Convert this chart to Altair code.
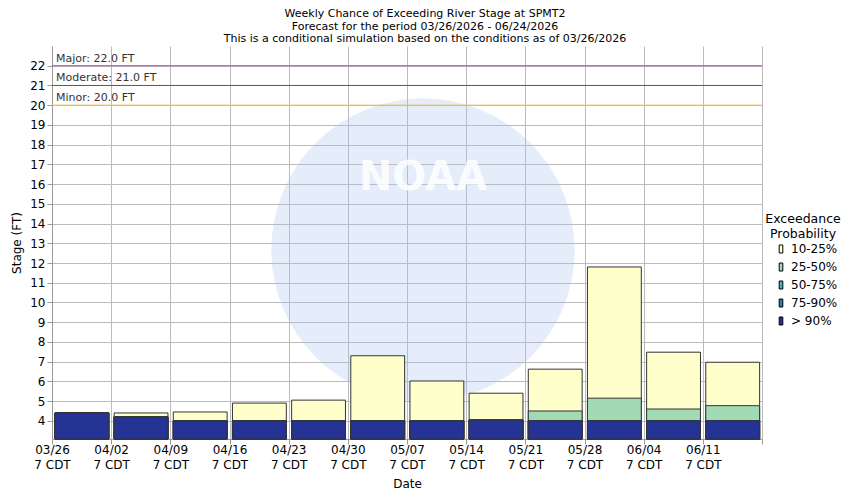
import altair as alt
import pandas as pd

# ---- data ----
week_labels = ["03/26", "04/02", "04/09", "04/16", "04/23", "04/30",
               "05/07", "05/14", "05/21", "05/28", "06/04", "06/11"]
tick_sub = "7 CDT"

categories = ["10-25%", "25-50%", "50-75%", "75-90%", "> 90%"]
cat_colors = ["#FFFFCC", "#A1DAB4", "#41B6C4", "#2C7FB8", "#253494"]

p10_25 = [4.40, 4.40, 4.45, 4.90, 5.05, 7.30, 6.02, 5.40, 6.62, 11.80, 7.48, 6.97]
p25_50 = [4.40, 4.20, 4.00, 4.00, 4.00, 4.00, 4.00, 4.05, 4.50, 5.15, 4.60, 4.77]
p50_75 = [4.40, 4.20, 4.00, 4.00, 4.00, 4.00, 4.00, 4.04, 4.00, 4.00, 4.00, 4.00]
p75_90 = [4.40, 4.20, 4.00, 4.00, 4.00, 4.00, 4.00, 4.04, 4.00, 4.00, 4.00, 4.00]
p90 = [4.40, 4.20, 4.00, 4.00, 4.00, 4.00, 4.00, 4.04, 4.00, 4.00, 4.00, 4.00]

flood_names = ["Major", "Moderate", "Minor"]
flood_levels = [22.0, 21.0, 20.0]
flood_colors = ["#CC33CC", "#DD2222", "#F2C033"]

title_lines = [
    "Weekly Chance of Exceeding River Stage at SPMT2",
    "Forecast for the period 03/26/2026 - 06/24/2026",
    "This is a conditional simulation based on the conditions as of 03/26/2026",
]

watermark_text = ["NOAA"]

Y0, Y1 = 3.08, 23.0
FONT = "DejaVu Sans"

series = [p10_25, p25_50, p50_75, p75_90, p90]
rows = []
for ci, (cat, vals) in enumerate(zip(categories, series)):
    for wi, v in enumerate(vals):
        rows.append({"week": wi, "cat": cat, "rank": ci, "value": v})
df = pd.DataFrame(rows)

fdf = pd.DataFrame({"name": flood_names, "level": flood_levels, "col": flood_colors})
wdf = pd.DataFrame({"label": watermark_text})

js_labels = "[" + ",".join("'%s'" % w for w in week_labels) + "]"
label_expr = (
    f"datum.value < {len(week_labels)} ? [{js_labels}[datum.value], '{tick_sub}'] : ''"
)

xscale = alt.Scale(domain=[0, len(week_labels)], nice=False, zero=False)
yscale = alt.Scale(domain=[Y0, Y1], nice=False, zero=False)

x_axis = alt.Axis(
    values=list(range(len(week_labels) + 1)),
    labelExpr=label_expr,
    title="Date",
    labelFontSize=12,
    titleFontSize=12,
    tickSize=5,
    labelPadding=0,
    labelLineHeight=15,
    titlePadding=8,
    labelFlush=False,
    labelOverlap=False,
    grid=True,
)
y_axis = alt.Axis(
    values=list(range(4, 23)),
    title="Stage (FT)",
    labelFontSize=12,
    titleFontSize=12,
    tickSize=5,
    labelPadding=2,
    titlePadding=6,
    labelOverlap=False,
    grid=True,
)

# faint NOAA-style watermark disc behind the bars (decoration only)
disc = (
    alt.Chart(wdf)
    .mark_point(shape="circle", filled=True, fill="#A8C0F0", fillOpacity=0.3, opacity=1, strokeWidth=0)
    .encode(x=alt.value(371), y=alt.value(204), size=alt.value(92000))
)
wm_text = (
    alt.Chart(wdf)
    .mark_text(font=FONT, fontSize=40, fontWeight="bold", color="white", opacity=0.85,
               align="center", baseline="middle")
    .encode(x=alt.value(371), y=alt.value(132), text="label:N")
)

bars = (
    alt.Chart(df)
    .transform_calculate(x0="datum.week + 0.05", x1="datum.week + 0.96")
    .mark_bar(stroke="#333333", strokeWidth=1)
    .encode(
        x=alt.X("x0:Q", scale=xscale, axis=x_axis),
        x2="x1:Q",
        y=alt.Y("value:Q", stack=None, scale=yscale, axis=y_axis),
        y2=alt.datum(Y0),
        color=alt.Color(
            "cat:N",
            scale=alt.Scale(domain=categories, range=cat_colors),
            legend=alt.Legend(
                title=["Exceedance", "Probability"],
                orient="none",
                legendX=713,
                legendY=167,
                symbolType="M-0.45,-1H0.45V1H-0.45Z",
                symbolSize=64,
                symbolStrokeColor="#000000",
                symbolStrokeWidth=1,
                symbolOffset=6,
                titleFontSize=12.5,
                labelFontSize=12,
                titleFontWeight="normal",
                titleAlign="center",
                titleAnchor="middle",
                titlePadding=3,
                rowPadding=6,
                labelOffset=4,
            ),
        ),
        order=alt.Order("rank:Q"),
    )
)

rules = (
    alt.Chart(fdf)
    .mark_rule(strokeWidth=1)
    .encode(
        y=alt.Y("level:Q", scale=yscale, axis=y_axis),
        color=alt.Color("col:N", scale=None),
    )
)

texts = (
    alt.Chart(fdf)
    .transform_calculate(label="datum.name + ': ' + format(datum.level, '.1f') + ' FT'")
    .mark_text(align="left", baseline="bottom", dx=4, dy=-2, fontSize=11, color="#333333", font=FONT)
    .encode(
        x=alt.X(datum=0, scale=xscale, axis=x_axis),
        y=alt.Y("level:Q", scale=yscale, axis=y_axis),
        text="label:N",
    )
)

chart = (
    alt.layer(disc, wm_text, bars, rules, texts)
    .properties(
        width=710,
        height=393,
        autosize="none",
        padding={"left": 44, "top": 38, "right": 80, "bottom": 53},
        title=alt.TitleParams(
            text=title_lines,
            fontSize=11,
            fontWeight="normal",
            font=FONT,
            anchor="middle",
            dx=18,
            offset=2,
            lineHeight=12.5,
            color="black",
        ),
    )
    .configure_axis(
        labelFont=FONT,
        titleFont=FONT,
        gridColor="#BBBBBB",
        domainColor="#999999",
        tickColor="#999999",
        labelColor="black",
        titleColor="black",
        titleFontWeight="normal",
    )
    .configure_legend(labelFont=FONT, titleFont=FONT, labelColor="black", titleColor="black")
    .configure_view(stroke=None)
)

chart.save("out.html", embed_options={"renderer": "svg", "actions": False})
